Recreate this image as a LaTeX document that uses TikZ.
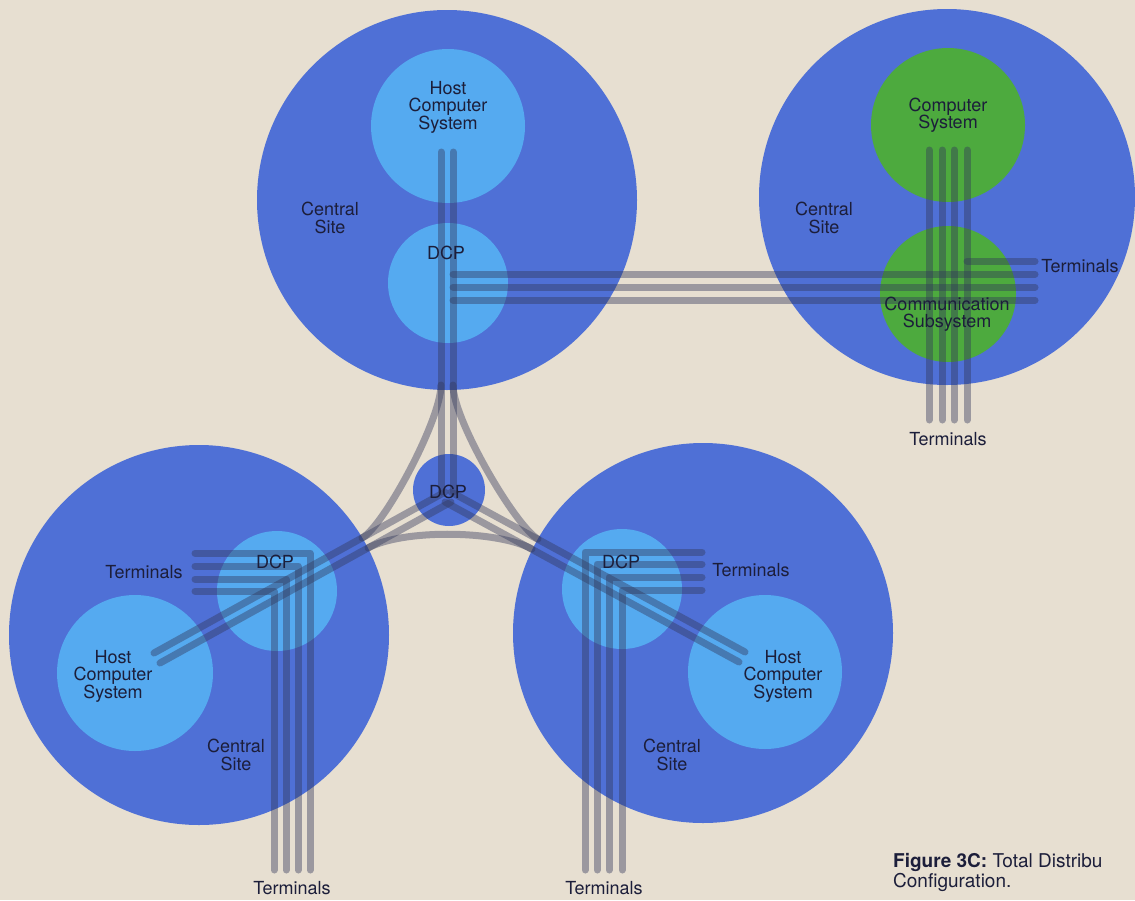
\documentclass[tikz,border=0pt]{standalone}
\usepackage{fontspec}
\setmainfont{TeX Gyre Heros}
\definecolor{paper}{HTML}{E7DFD1}
\definecolor{site}{HTML}{4F70D6}
\definecolor{lblue}{HTML}{55AAF0}
\definecolor{lgreen}{HTML}{4DAA3E}
\definecolor{ink}{HTML}{1C1E3A}
\definecolor{wirec}{HTML}{32375A}
\begin{document}
\begin{tikzpicture}[x=1pt,y=-1pt,
  bigsite/.style={circle, inner sep=0pt, fill=site, minimum size=380pt},
  innerc/.style={circle, inner sep=0pt, fill=lblue},
  greenc/.style={circle, inner sep=0pt, fill=lgreen},
  hubc/.style={circle, inner sep=0pt, fill=site, minimum size=72pt},
  wire/.style={draw=wirec, draw opacity=0.42, line width=7pt, line cap=round, line join=round},
  lbl/.style={text=ink, align=center, inner sep=0pt, font=\fontsize{18}{17.5}\selectfont},
]
\fill[paper] (0,0) rectangle (1135,900);
\useasboundingbox (0,0) rectangle (1135,900);

% sites
\node[bigsite] (tl) at (447,200) {};
\node[bigsite, minimum size=376pt] (tr) at (947,197) {};
\node[bigsite] (bl) at (199,635) {};
\node[bigsite] (br) at (703,633) {};

\node[innerc, minimum size=154pt] (tlhost) at (448,126) {};
\node[innerc, minimum size=120pt] (tldcp) at (448,283) {};
\node[greenc, minimum size=154pt] (trcs) at (948,125) {};
\node[greenc, minimum size=136pt] (trcomm) at (948,294) {};
\node[hubc] (hub) at (449,490) {};
\node[innerc, minimum size=120pt] (bldcp) at (277,591) {};
\node[innerc, minimum size=156pt] (blhost) at (135,673) {};
\node[innerc, minimum size=120pt] (brdcp) at (622,589) {};
\node[innerc, minimum size=154pt] (brhost) at (765,672) {};

% wire end points
\coordinate (tlA) at (441,152);
\coordinate (tlB) at (453,152);
\coordinate (hA) at (441,492);
\coordinate (hB) at (453,492);
\coordinate (blU) at (154,653);
\coordinate (blL) at (160,663);
\coordinate (hblU) at (445,492);
\coordinate (hblL) at (451,502);
\coordinate (brU) at (745,652);
\coordinate (brL) at (739,662);
\coordinate (hbrU) at (451,492);
\coordinate (hbrL) at (445,502);
\coordinate (jTLa) at (441,385);
\coordinate (jTLb) at (453,385);
\coordinate (jBLu) at (362,538);
\coordinate (jBLl) at (368,548);
\coordinate (jBRu) at (538,539);
\coordinate (jBRl) at (532,549);

% top-left site to hub
\draw[wire] (tlA) -- (hA);
\draw[wire] (tlB) -- (hB);
% bottom-left to hub
\draw[wire] (blU) -- (hblU);
\draw[wire] (blL) -- (hblL);
% bottom-right to hub
\draw[wire] (brU) -- (hbrU);
\draw[wire] (brL) -- (hbrL);
% direct curved links
\draw[wire] (jTLa) .. controls (441,420) and (384,526) .. (jBLu);
\draw[wire] (jTLb) .. controls (453,420) and (516,527) .. (jBRu);
\draw[wire] (jBLl) .. controls (403,529) and (497,530) .. (jBRl);

% top-left DCP to top-right site
\draw[wire] (453,274) -- (1035,274);
\draw[wire] (453,287) -- (1035,287);
\draw[wire] (453,300) -- (1035,300);
\draw[wire] (967,261) -- (1035,261);
\draw[wire] (929,150) -- (929,420);
\draw[wire] (942,150) -- (942,420);
\draw[wire] (954,150) -- (954,420);
\draw[wire] (967,150) -- (967,420);

% bottom-left terminals
\draw[wire] (195,553) -- (310,553) -- (310,870);
\draw[wire] (195,566) -- (298,566) -- (298,870);
\draw[wire] (195,579) -- (286,579) -- (286,870);
\draw[wire] (195,591) -- (274,591) -- (274,870);
% bottom-right terminals
\draw[wire] (702,552) -- (585,552) -- (585,870);
\draw[wire] (702,564) -- (597,564) -- (597,870);
\draw[wire] (702,577) -- (609,577) -- (609,870);
\draw[wire] (702,590) -- (622,590) -- (622,870);

% labels
\node[lbl] (tlhostt) at (448,107) {Host\\Computer\\System};
\node[lbl] (tlsite) at (330,218) {Central\\Site};
\node[lbl] (tldcpt) at (446,253) {DCP};
\node[lbl] (trcst) at (948,115) {Computer\\System};
\node[lbl] (trsite) at (824,218) {Central\\Site};
\node[lbl] (trcommt) at (947,314) {Communication\\Subsystem};
\node[lbl] (trterm1) at (1080,266) {Terminals};
\node[lbl] (trterm2) at (948,439) {Terminals};
\node[lbl] (hubt) at (448,492) {DCP};
\node[lbl] (bldcpt) at (275,562) {DCP};
\node[lbl] (blterm1) at (144,572) {Terminals};
\node[lbl] (blhostt) at (113,676) {Host\\Computer\\System};
\node[lbl] (blsite) at (236,755) {Central\\Site};
\node[lbl] (blterm2) at (292,888) {Terminals};
\node[lbl] (brdcpt) at (621,562) {DCP};
\node[lbl] (brterm1) at (751,570) {Terminals};
\node[lbl] (brhostt) at (783,676) {Host\\Computer\\System};
\node[lbl] (brsite) at (672,755) {Central\\Site};
\node[lbl] (brterm2) at (604,888) {Terminals};
\node[lbl, anchor=west, align=left, font=\fontsize{19}{20}\selectfont] (caption) at (893,872) {\textbf{Figure 3C:} Total Distribu\\Configuration.};
\end{tikzpicture}
\end{document}
